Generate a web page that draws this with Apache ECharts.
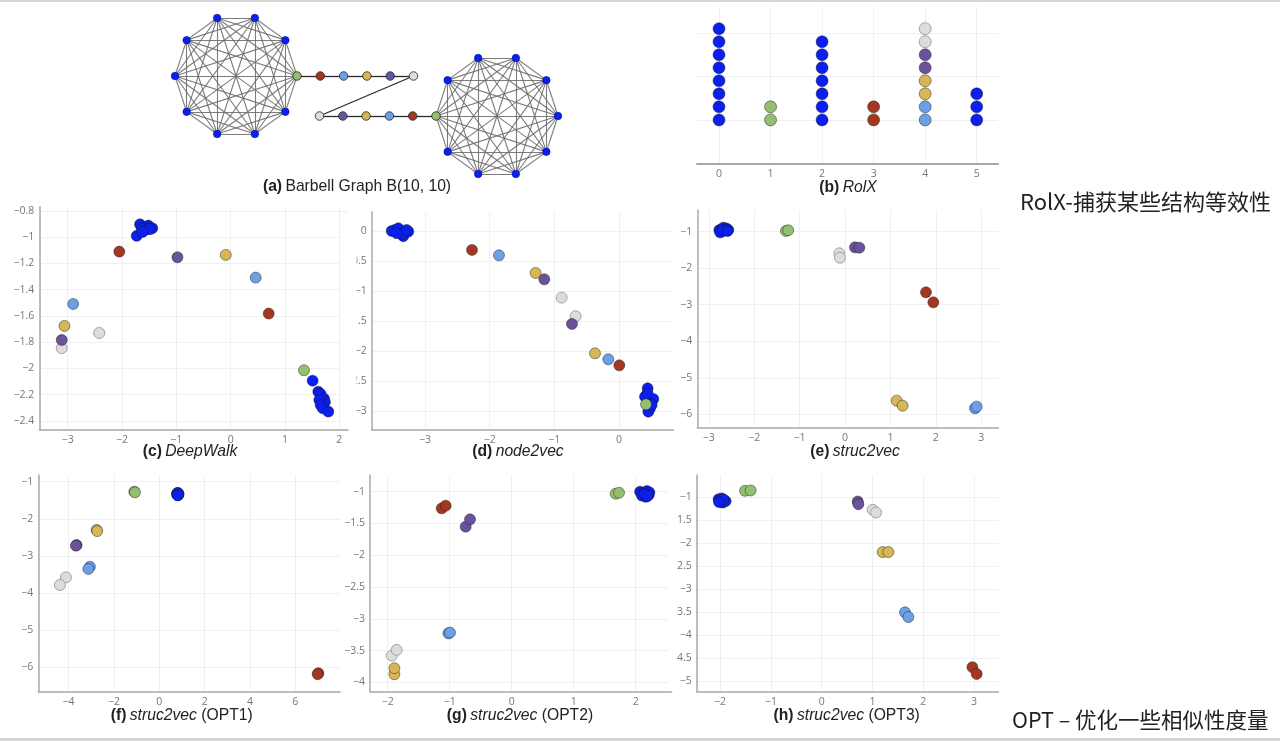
<!DOCTYPE html>
<html><head><meta charset="utf-8">
<script src="https://cdn.jsdelivr.net/npm/echarts@6/dist/echarts.min.js"></script>
<style>html,body{margin:0;padding:0;background:#fff}#c{width:1280px;height:741px}</style>
</head><body><div id="c"></div>
<script>
// ---------- colour keys ----------
const COLORS = {b:'#0a1ff0', g:'#93bf70', r:'#a4371f', l:'#6b9fe6', y:'#d7b655', p:'#6b529d', w:'#dcdcdc'};

// ---------- (a) barbell graph structure ----------
const cliqueSize = 10;
const pathRoles = ['r','l','y','p','w'];   // colours along each half of the bridge path

// ---------- (b) RolX : [role, stack height, colour] ----------
const rolxTicks = [0,1,2,3,4,5];
const rolxPoints = [
  [0,1.0,'b'],[0,1.3,'b'],[0,1.6,'b'],[0,1.9,'b'],[0,2.2,'b'],[0,2.5,'b'],[0,2.8,'b'],[0,3.1,'b'],
  [1,1.0,'g'],[1,1.3,'g'],
  [2,1.0,'b'],[2,1.3,'b'],[2,1.6,'b'],[2,1.9,'b'],[2,2.2,'b'],[2,2.5,'b'],[2,2.8,'b'],
  [3,1.0,'r'],[3,1.3,'r'],
  [4,1.0,'l'],[4,1.3,'l'],[4,1.6,'y'],[4,1.9,'y'],[4,2.2,'p'],[4,2.5,'p'],[4,2.8,'w'],[4,3.1,'w'],
  [5,1.0,'b'],[5,1.3,'b'],[5,1.6,'b']
];

// ---------- (c) DeepWalk ----------
const deepwalk = [
  [-1.669,-0.902,'b'],[-1.515,-0.912,'b'],[-1.442,-0.932,'b'],[-1.595,-0.95,'b'],[-1.73,-0.99,'b'],
  [-1.564,-0.924,'b'],[-1.638,-0.932,'b'],[-1.49,-0.94,'b'],[-1.62,-0.96,'b'],
  [-2.05,-1.11,'r'],[-0.98,-1.153,'p'],[-0.09,-1.135,'y'],[0.46,-1.308,'l'],[0.70,-1.582,'r'],
  [-2.90,-1.509,'l'],[-3.06,-1.676,'y'],[-2.42,-1.73,'w'],[-3.11,-1.846,'w'],[-3.11,-1.783,'p'],
  [1.35,-2.014,'g'],
  [1.509,-2.093,'b'],[1.613,-2.177,'b'],[1.656,-2.195,'b'],[1.718,-2.23,'b'],[1.736,-2.256,'b'],
  [1.632,-2.24,'b'],[1.656,-2.278,'b'],[1.693,-2.303,'b'],[1.798,-2.329,'b']
];

// ---------- (d) node2vec ----------
const node2vec = [
  [-3.464,0.017,'b'],[-3.387,-0.01,'b'],[-3.335,-0.088,'b'],[-3.258,-0.01,'b'],[-3.515,0.0,'b'],
  [-3.412,0.044,'b'],[-3.36,-0.055,'b'],[-3.284,0.017,'b'],[-3.438,-0.038,'b'],
  [-2.273,-0.317,'r'],[-1.856,-0.406,'l'],[-1.289,-0.70,'y'],[-1.155,-0.806,'p'],[-0.887,-1.111,'w'],
  [-0.67,-1.422,'w'],[-0.727,-1.55,'p'],[-0.371,-2.039,'y'],[-0.165,-2.139,'l'],[0.005,-2.239,'r'],
  [0.443,-2.622,'b'],[0.428,-2.733,'b'],[0.464,-2.844,'b'],[0.531,-2.8,'b'],[0.479,-2.956,'b'],
  [0.454,-3.011,'b'],[0.402,-2.761,'b'],[0.505,-2.9,'b'],[0.443,-2.706,'b'],
  [0.418,-2.889,'g']
];

// ---------- (e) struc2vec ----------
const struc2vec = [
  [-2.768,-0.954,'b'],[-2.68,-0.89,'b'],[-2.57,-0.954,'b'],[-2.72,-1.0,'b'],[-2.61,-0.91,'b'],
  [-2.75,-1.018,'b'],[-2.643,-0.936,'b'],[-2.695,-0.963,'b'],[-2.59,-0.982,'b'],
  [-1.30,-0.98,'g'],[-1.25,-0.96,'g'],
  [-0.125,-1.593,'w'],[-0.11,-1.712,'w'],
  [0.22,-1.429,'p'],[0.316,-1.438,'p'],
  [1.784,-2.66,'r'],[1.946,-2.934,'r'],
  [1.138,-5.626,'y'],[1.27,-5.763,'y'],
  [2.863,-5.836,'l'],[2.90,-5.79,'l']
];

// ---------- (f) struc2vec OPT1 ----------
const opt1 = [
  [-1.103,-1.269,'g'],[-1.074,-1.287,'g'],
  [0.79,-1.31,'b'],[0.81,-1.33,'b'],[0.84,-1.32,'b'],[0.80,-1.35,'b'],[0.83,-1.36,'b'],
  [0.78,-1.34,'b'],[0.82,-1.30,'b'],[0.85,-1.34,'b'],[0.81,-1.37,'b'],
  [-2.765,-2.30,'y'],[-2.74,-2.33,'y'],
  [-3.647,-2.706,'p'],[-3.676,-2.724,'p'],
  [-3.06,-3.29,'l'],[-3.13,-3.35,'l'],
  [-4.118,-3.576,'w'],[-4.382,-3.783,'w'],
  [7.015,-6.16,'r'],[6.985,-6.186,'r']
];

// ---------- (g) struc2vec OPT2 ----------
const opt2 = [
  [-1.129,-1.262,'r'],[-1.065,-1.22,'r'],
  [-0.742,-1.551,'p'],[-0.672,-1.435,'p'],
  [1.677,-1.031,'g'],[1.731,-1.016,'g'],
  [2.07,-1.0,'b'],[2.12,-1.02,'b'],[2.18,-0.99,'b'],[2.22,-1.01,'b'],[2.10,-1.06,'b'],
  [2.16,-1.08,'b'],[2.21,-1.05,'b'],[2.14,-1.04,'b'],[2.19,-1.07,'b'],
  [-1.021,-3.229,'l'],[-0.995,-3.218,'l'],
  [-1.935,-3.58,'w'],[-1.855,-3.49,'w'],
  [-1.892,-3.874,'y'],[-1.892,-3.779,'y']
];

// ---------- (h) struc2vec OPT3 ----------
const opt3 = [
  [-2.03,-1.04,'b'],[-1.97,-1.02,'b'],[-1.92,-1.06,'b'],[-2.0,-1.09,'b'],[-1.95,-1.11,'b'],
  [-1.89,-1.08,'b'],[-1.99,-1.06,'b'],[-1.94,-1.04,'b'],[-2.02,-1.10,'b'],
  [-1.509,-0.854,'g'],[-1.398,-0.847,'g'],
  [0.709,-1.088,'p'],[0.722,-1.146,'p'],
  [1.004,-1.27,'w'],[1.07,-1.328,'w'],
  [1.2,-2.19,'y'],[1.312,-2.19,'y'],
  [1.64,-3.504,'l'],[1.706,-3.606,'l'],
  [2.966,-4.70,'r'],[3.051,-4.847,'r']
];

// ---------- texts ----------
const captions = [
  {tag:'(a)', name:'Barbell Graph B(10, 10)', italic:false, extra:''},
  {tag:'(b)', name:'RolX', italic:true, extra:''},
  {tag:'(c)', name:'DeepWalk', italic:true, extra:''},
  {tag:'(d)', name:'node2vec', italic:true, extra:''},
  {tag:'(e)', name:'struc2vec', italic:true, extra:''},
  {tag:'(f)', name:'struc2vec', italic:true, extra:' (OPT1)'},
  {tag:'(g)', name:'struc2vec', italic:true, extra:' (OPT2)'},
  {tag:'(h)', name:'struc2vec', italic:true, extra:' (OPT3)'}
];
const noteRolx = 'RolX-捕获某些结构等效性';
const noteOpt = 'OPT – 优化一些相似性度量';

// =====================================================================
const chart = echarts.init(document.getElementById('c'), null, {renderer:'canvas'});
const LABEL_FONT = 'Open Sans';
const CAP_FONT = '"Liberation Sans", Arial, sans-serif';

// barbell layout (pixel space of grid 0)
const BL = {r:61, left:[236,76], right:[497,116], step:23.3};
function buildBarbell(){
  const nodes=[], links=[];
  for(let i=0;i<cliqueSize;i++){
    const a=i*2*Math.PI/cliqueSize;
    nodes.push({key:i===0?'g':'b', pos:[BL.left[0]+BL.r*Math.cos(a), BL.left[1]-BL.r*Math.sin(a)]});
  }
  for(let i=0;i<cliqueSize;i++){
    const a=Math.PI+i*2*Math.PI/cliqueSize;
    nodes.push({key:i===0?'g':'b', pos:[BL.right[0]+BL.r*Math.cos(a), BL.right[1]-BL.r*Math.sin(a)]});
  }
  pathRoles.forEach((k,i)=>nodes.push({key:k, pos:[BL.left[0]+BL.r+(i+1)*BL.step, BL.left[1]]}));
  pathRoles.forEach((k,i)=>nodes.push({key:k, pos:[BL.right[0]-BL.r-(i+1)*BL.step, BL.right[1]]}));
  for(let c=0;c<2;c++){
    const o=c*cliqueSize;
    for(let i=0;i<cliqueSize;i++) for(let j=i+1;j<cliqueSize;j++)
      links.push({source:o+i, target:o+j, lineStyle:{color:'#6e6e6e', width:1.1, opacity:0.9}});
  }
  const tA=2*cliqueSize, tB=2*cliqueSize+pathRoles.length;
  const chain=[0, tA, tA+1, tA+2, tA+3, tA+4, tB+4, tB+3, tB+2, tB+1, tB, cliqueSize];
  for(let i=0;i<chain.length-1;i++) links.push({source:chain[i], target:chain[i+1], lineStyle:{color:'#2a2a2a', width:1.3, opacity:1}});
  const data = nodes.map(n=>({
    value:n.pos,
    symbolSize: n.key==='b'?7.5:8.5,
    itemStyle:{color:COLORS[n.key], opacity:1, borderColor: n.key==='b' ? '#0010a0' : '#333', borderWidth: n.key==='b'?0.6:0.9}
  }));
  return {data, links};
}

// panel geometry
const panels = [
  {key:'c', pts:deepwalk,  grid:{left:39.3, top:206.7, width:308.7, height:223.3}, x:[-3.523,2.16,1],  y:[-2.469,-0.768,0.2]},
  {key:'d', pts:node2vec,  grid:{left:371.7,top:211.7, width:301.6, height:217.6}, x:[-3.824,0.84,1],  y:[-3.305,0.32,0.5]},
  {key:'e', pts:struc2vec, grid:{left:697.3,top:210,   width:301,   height:217.3}, x:[-3.253,3.377,1], y:[-6.356,-0.406,1]},
  {key:'f', pts:opt1,      grid:{left:38.3, top:475,   width:301.7, height:216.7}, x:[-5.337,7.97,2],  y:[-6.657,-0.82,1]},
  {key:'g', pts:opt2,      grid:{left:370,  top:475,   width:301.7, height:216.7}, x:[-2.285,2.58,1],  y:[-4.148,-0.737,0.5]},
  {key:'h', pts:opt3,      grid:{left:696.7,top:475,   width:301.6, height:216.7}, x:[-2.46,3.476,1],  y:[-5.234,-0.51,0.5]}
];

const grids=[], xAxes=[], yAxes=[], series=[];
// grid 0 : barbell
grids.push({left:160, top:0, width:420, height:200, outerBoundsMode:'none'});
xAxes.push({type:'value', gridIndex:0, min:160, max:580, show:false});
yAxes.push({type:'value', gridIndex:0, min:0, max:200, inverse:true, show:false});
const bb = buildBarbell();
series.push({type:'graph', coordinateSystem:'cartesian2d', xAxisIndex:0, yAxisIndex:0, data:bb.data, links:bb.links, silent:true, label:{show:false}});

// grid 1 : RolX
grids.push({left:697, top:7, width:301, height:156.3, outerBoundsMode:'none'});
const gridLine = {show:true, showMinLine:false, showMaxLine:false, lineStyle:{color:'#eef0f4', width:1}};
const minusFmt = v => String(v).replace('-', '\u2212');
xAxes.push({type:'value', gridIndex:1, min:-0.427, max:5.413, minInterval:1, maxInterval:1,
  axisLine:{show:true, onZero:false, lineStyle:{color:'#a8a8a8', width:2}}, axisTick:{show:false},
  splitLine:gridLine,
  axisLabel:{showMinLabel:false, showMaxLabel:false, color:'#777', fontSize:10.5, fontFamily:LABEL_FONT, margin:5}});
yAxes.push({type:'value', gridIndex:1, min:0, max:3.6, minInterval:1, maxInterval:1,
  axisLine:{show:false}, axisTick:{show:false}, axisLabel:{show:false}, splitLine:gridLine});
function styledPoint(p){
  return {value:[p[0],p[1]], itemStyle:{color:COLORS[p[2]], opacity:1, borderColor: p[2]==='w' ? '#a4a4a4' : 'rgba(25,25,25,0.45)', borderWidth:1}};
}
series.push({type:'scatter', xAxisIndex:1, yAxisIndex:1, symbolSize:12, silent:true, itemStyle:{opacity:1}, data:rolxPoints.map(styledPoint)});

panels.forEach((p,i)=>{
  const gi=i+2;
  grids.push(Object.assign({outerBoundsMode:'none'}, p.grid));
  const common = {type:'value', gridIndex:gi, axisTick:{show:false}, splitLine:gridLine,
    axisLine:{show:true, onZero:false, lineStyle:{color:'#a8a8a8', width:1.5}}};
  xAxes.push(Object.assign({}, common, {min:p.x[0], max:p.x[1], minInterval:p.x[2], maxInterval:p.x[2], position:'bottom',
    axisLabel:{showMinLabel:false, showMaxLabel:false, color:'#777', fontSize:10.5, fontFamily:LABEL_FONT, margin:5, formatter:minusFmt}}));
  yAxes.push(Object.assign({}, common, {min:p.y[0], max:p.y[1], minInterval:p.y[2], maxInterval:p.y[2], position:'left',
    axisLabel:{showMinLabel:false, showMaxLabel:false, color:'#777', fontSize:10.5, fontFamily:LABEL_FONT, margin:5, formatter:minusFmt}}));
  series.push({type:'scatter', xAxisIndex:gi, yAxisIndex:gi, symbolSize:11, silent:true, itemStyle:{opacity:1}, data:p.pts.map(styledPoint)});
});

// captions & notes
const capPos = [[357,187],[848,187.5],[190,451.7],[518,451.7],[855,451.2],[181.7,715.7],[520,715.7],[846.7,715.7]];
const graphics = [
  {type:'rect', shape:{x:0,y:0,width:1280,height:2}, style:{fill:'#d4d4d4'}, z:100},
  {type:'rect', shape:{x:0,y:738,width:1280,height:3}, style:{fill:'#d4d4d4'}, z:100},
  // neighbouring panels overlap the left edge of the tick labels of (d) and (h)
  {type:'rect', shape:{x:340,y:218,width:16.5,height:205}, style:{fill:'#fff'}, z:100},
  {type:'rect', shape:{x:668.5,y:485,width:8.5,height:200}, style:{fill:'#fff'}, z:100}
];
captions.forEach((c,i)=>{
  graphics.push({type:'text', x:capPos[i][0], y:capPos[i][1], z:100, style:{
    text:'{t|'+c.tag+'} {'+(c.italic?'i':'n')+'|'+c.name+'}'+(c.extra?'{n|'+c.extra+'}':''),
    align:'center', verticalAlign:'middle',
    rich:{
      t:{fontWeight:'bold', fontSize:15.7, fontFamily:CAP_FONT, fill:'#222'},
      i:{fontStyle:'italic', fontSize:15.7, fontFamily:CAP_FONT, fill:'#222'},
      n:{fontSize:15.7, fontFamily:CAP_FONT, fill:'#222'}
    }}});
});
graphics.push({type:'text', x:1020, y:201.7, z:100, style:{text:noteRolx, align:'left', verticalAlign:'middle', fontSize:22, fontFamily:'"Noto Sans CJK SC"', fill:'#222'}});
graphics.push({type:'text', x:1012, y:720, z:100, style:{text:noteOpt, align:'left', verticalAlign:'middle', fontSize:21.5, fontFamily:'"Noto Sans CJK SC"', fill:'#222'}});

chart.setOption({
  animation:false,
  backgroundColor:'#fff',
  textStyle:{fontFamily:LABEL_FONT},
  grid:grids, xAxis:xAxes, yAxis:yAxes, series:series, graphic:graphics
});
</script></body></html>
